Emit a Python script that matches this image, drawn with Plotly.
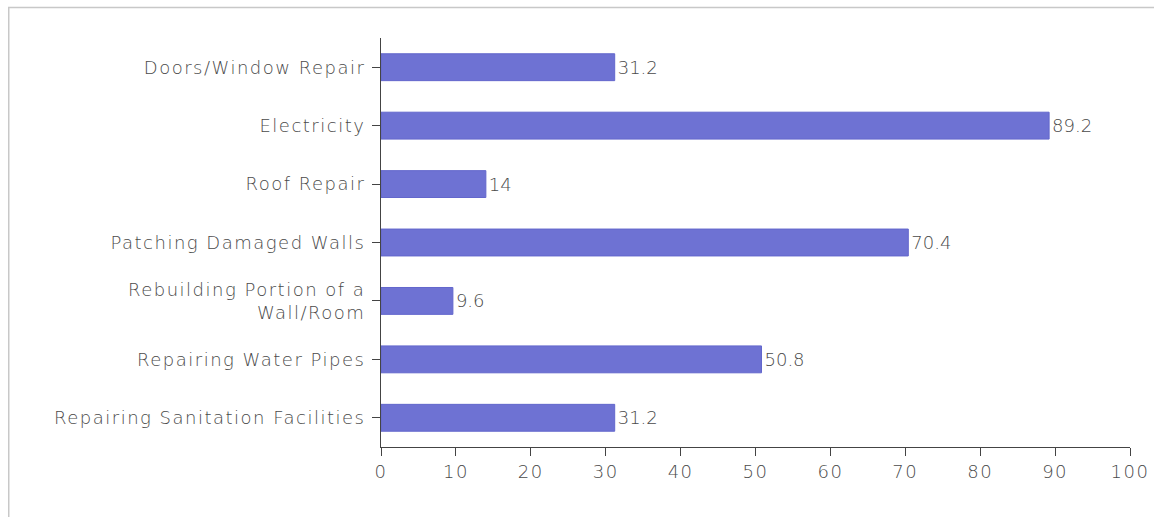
import plotly.graph_objects as go

# Repair needs, listed top to bottom
categories = [
    "Doors/Window Repair",
    "Electricity",
    "Roof Repair",
    "Patching Damaged Walls",
    "Rebuilding Portion of a<br>Wall/Room",
    "Repairing Water Pipes",
    "Repairing Sanitation Facilities",
]
values = [31.2, 89.2, 14, 70.4, 9.6, 50.8, 31.2]
x_ticks = [0, 10, 20, 30, 40, 50, 60, 70, 80, 90, 100]

BAR = "#6e72d3"
TEXT = "#4a4a4a"
AXIS = "#444444"
FONT = "'DejaVu Sans', sans-serif"
FSIZE = 18

fig = go.Figure(
    go.Bar(
        x=values,
        y=categories,
        orientation="h",
        width=0.46,
        marker=dict(color=BAR, line=dict(color="#6367cc", width=1)),
        text=[f"{v:g}" for v in values],
        textposition="outside",
        textfont=dict(family=FONT, size=FSIZE, color=TEXT, weight=200),
        cliponaxis=False,
        hoverinfo="x+y",
    )
)

fig.update_layout(
    width=1154,
    height=517,
    margin=dict(l=381, r=24, t=38, b=70, autoexpand=False),
    paper_bgcolor="white",
    plot_bgcolor="white",
    font=dict(family=FONT, size=FSIZE, color=TEXT, weight=200),
    showlegend=False,
    shapes=[
        # light frame around the chart area
        dict(
            type="rect", xref="paper", yref="paper",
            x0=-0.497, x1=1.05, y0=-0.2, y1=1.0745,
            line=dict(color="#c8c8c8", width=1.5),
            fillcolor="rgba(0,0,0,0)", layer="below",
        )
    ],
)

fig.update_xaxes(
    range=[0, 100],
    tickvals=x_ticks,
    ticks="outside",
    ticklen=8,
    tickcolor=AXIS,
    showline=True,
    linecolor=AXIS,
    linewidth=1,
    showgrid=False,
    zeroline=False,
    automargin=False,
    tickfont=dict(family=FONT, size=FSIZE, color=TEXT, weight=200),
)

fig.update_yaxes(
    categoryorder="array",
    categoryarray=categories[::-1],
    range=[-0.5, 6.5],
    ticks="outside",
    ticklen=8,
    ticklabelstandoff=3,
    tickcolor=AXIS,
    showline=True,
    linecolor=AXIS,
    linewidth=1,
    showgrid=False,
    automargin=False,
    tickfont=dict(family=FONT, size=FSIZE, color=TEXT, weight=200),
)

# wider letter spacing for the axis labels
spacing_css = """
var s = document.createElement('style');
s.textContent = '.xtick text, .ytick text {letter-spacing: 1.5px;}';
document.head.appendChild(s);
"""

fig.write_html("out.html", post_script=spacing_css)
